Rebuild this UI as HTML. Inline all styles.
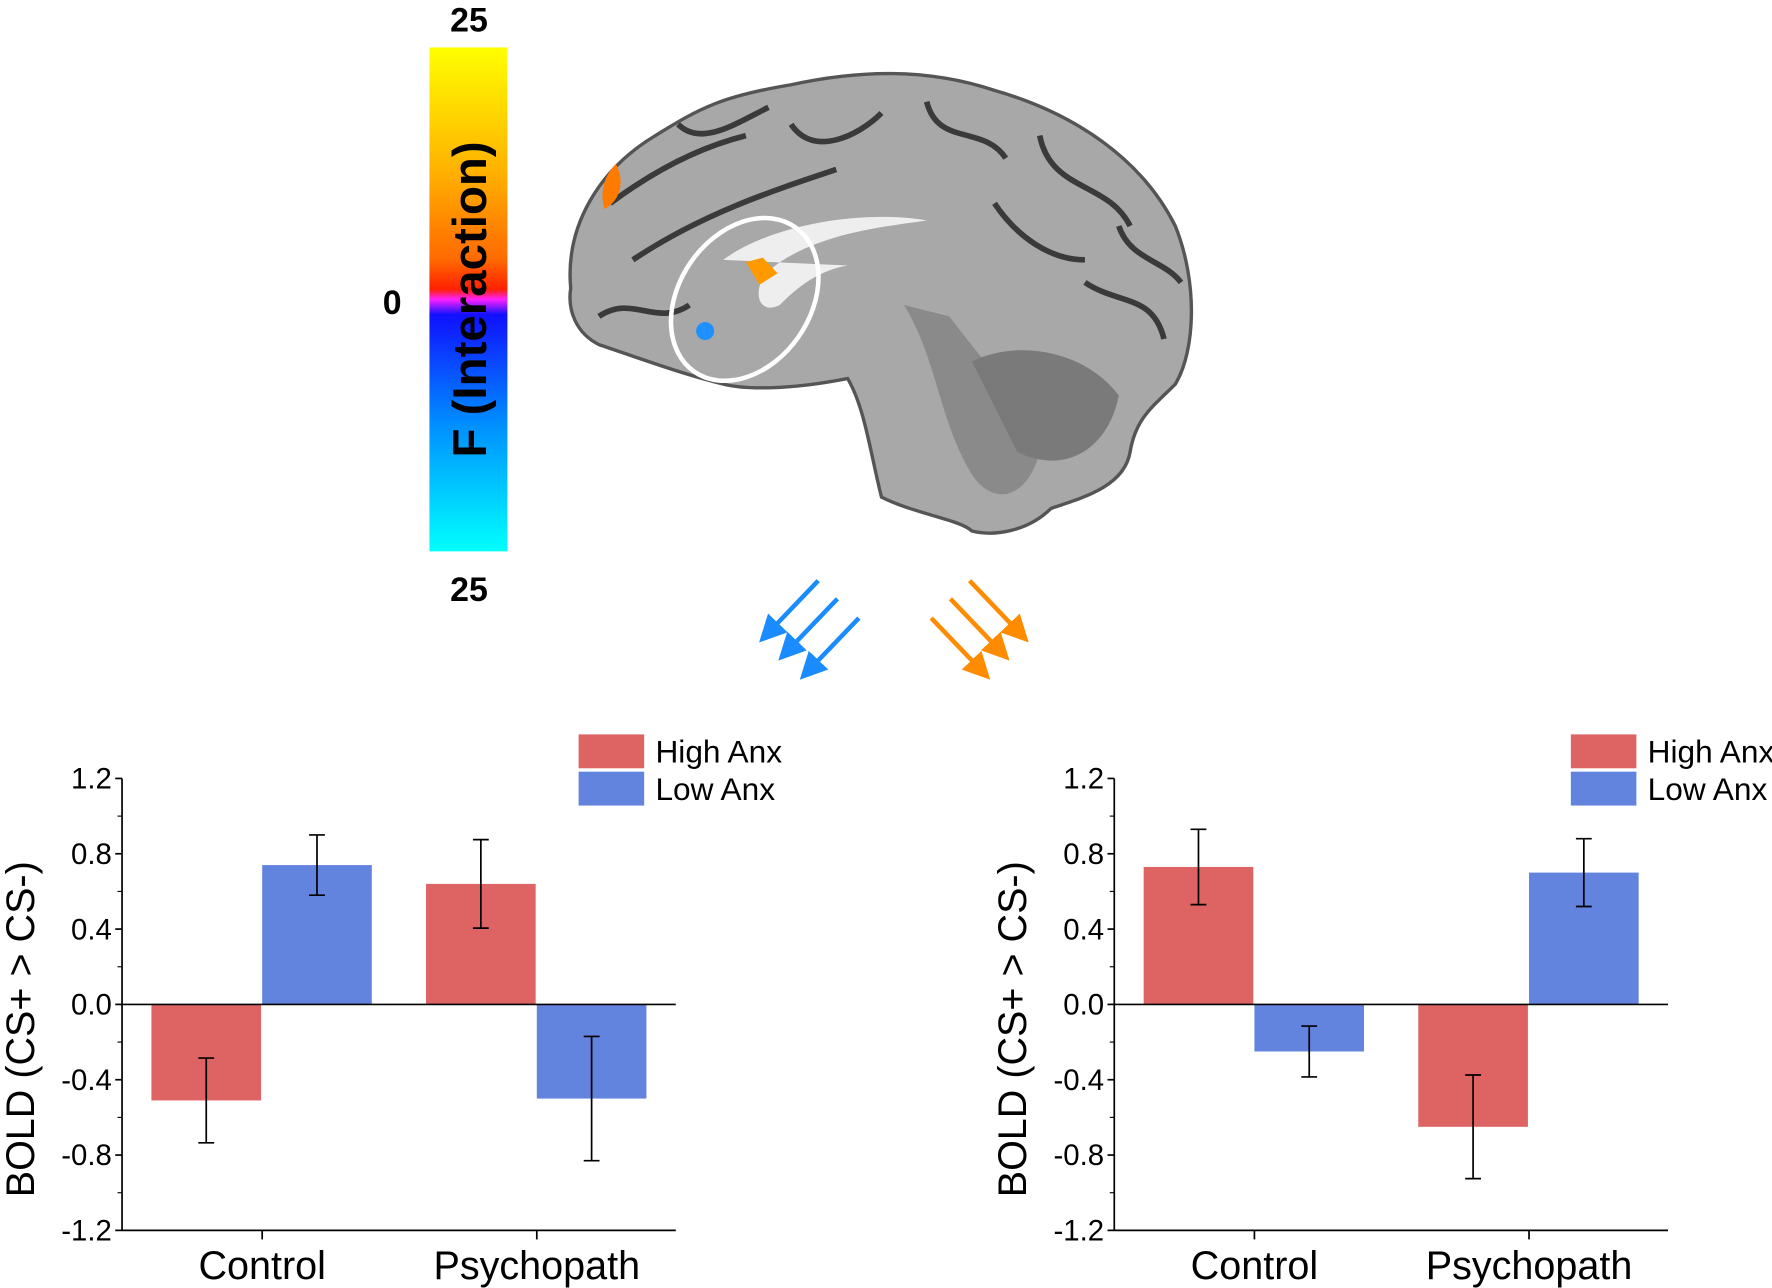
<!DOCTYPE html>
<html><head><meta charset="utf-8"><style>
html,body{margin:0;padding:0;background:#fff;}
svg{display:block;font-family:"Liberation Sans",Arial,sans-serif;}
.nar{font-family:"Liberation Sans Narrow","Liberation Sans",Arial,sans-serif;}
</style></head><body>
<svg width="1772" height="1288" viewBox="0 0 1568 1140" preserveAspectRatio="none">
<defs>
<linearGradient id="cb" x1="0" y1="0" x2="0" y2="1">
<stop offset="0" stop-color="#ffff00"/><stop offset="0.25" stop-color="#ffb000"/>
<stop offset="0.42" stop-color="#ff6a00"/><stop offset="0.48" stop-color="#ff2000"/>
<stop offset="0.5" stop-color="#ff20ff"/><stop offset="0.53" stop-color="#1010ff"/>
<stop offset="0.75" stop-color="#0090ff"/><stop offset="1" stop-color="#00ffff"/>
</linearGradient>
<marker id="ab" markerWidth="6" markerHeight="6" refX="3" refY="3" orient="auto"><path d="M0,0L6,3L0,6z" fill="#1a8cff"/></marker>
<marker id="ao" markerWidth="6" markerHeight="6" refX="3" refY="3" orient="auto"><path d="M0,0L6,3L0,6z" fill="#ff8c00"/></marker>
</defs>
<g>
<rect x="380" y="42" width="69" height="446" fill="url(#cb)"/>
<text x="415" y="28" font-size="30" font-weight="bold" text-anchor="middle">25</text>
<text x="415" y="532" font-size="30" font-weight="bold" text-anchor="middle">25</text>
<text x="347" y="278" font-size="30" font-weight="bold" text-anchor="middle">0</text>
<text transform="translate(430,265) rotate(-90)" font-size="42" font-weight="bold" text-anchor="middle">F (Interaction)</text>
</g>
<g>
<path d="M505,255 C500,200 530,150 580,120 C620,95 640,85 700,75 C760,62 820,60 880,80 C950,100 1010,140 1040,200 C1060,250 1058,310 1040,340 C1020,360 1005,370 1000,400 C995,430 960,440 930,450 C910,470 880,475 860,470 C850,460 810,455 780,440 C770,400 765,360 750,335 C700,345 660,345 640,340 C600,330 560,315 530,305 C510,295 502,275 505,255 Z" fill="#a8a8a8" stroke="#555" stroke-width="3"/>
<path d="M540,180 C580,150 620,130 660,120 M560,230 C620,190 680,170 740,150 M700,110 C720,140 760,120 780,100 M820,90 C830,130 870,110 890,140 M920,120 C930,170 980,160 1000,200 M960,250 C990,270 1020,260 1030,300 M530,280 C560,260 580,290 610,270 M880,180 C900,210 930,230 960,230 M600,110 C620,130 650,110 680,95 M990,200 C1000,230 1030,230 1045,250" fill="none" stroke="#3a3a3a" stroke-width="5"/>
<path d="M640,230 C680,200 760,185 820,195 C790,200 720,205 680,240 C665,255 670,280 690,270 C700,260 720,240 750,235 Z" fill="#eee"/>
<path d="M800,270 C830,320 830,370 860,420 C880,450 910,440 920,400 C900,350 870,320 840,280 Z" fill="#8a8a8a"/>
<path d="M860,320 C900,300 960,310 990,350 C980,400 940,420 900,400 Z" fill="#7a7a7a"/>
<path d="M545,145 C555,165 545,180 535,185 C530,170 535,155 545,145 Z" fill="#ff7a00"/>
<path d="M660,232 L675,228 L688,242 L672,252 Z" fill="#ff9900"/>
<circle cx="624" cy="293" r="8" fill="#1e90ff"/>
<ellipse cx="659" cy="265" rx="58" ry="78" transform="rotate(35 659 265)" fill="none" stroke="#fff" stroke-width="4"/>
</g>
<g>
<line x1="724" y1="514" x2="680" y2="560" stroke="#1a8cff" stroke-width="4" marker-end="url(#ab)"/>
<line x1="741" y1="530" x2="697" y2="576" stroke="#1a8cff" stroke-width="4" marker-end="url(#ab)"/>
<line x1="760" y1="547" x2="716" y2="593" stroke="#1a8cff" stroke-width="4" marker-end="url(#ab)"/>
<line x1="858" y1="514" x2="902" y2="560" stroke="#ff8c00" stroke-width="4" marker-end="url(#ao)"/>
<line x1="841" y1="530" x2="885" y2="576" stroke="#ff8c00" stroke-width="4" marker-end="url(#ao)"/>
<line x1="824" y1="547" x2="868" y2="593" stroke="#ff8c00" stroke-width="4" marker-end="url(#ao)"/>
</g>
<g id="charts"></g>
</svg>
<script>
const categories = ["Control","Psychopath"];
const seriesNames = ["High Anx","Low Anx"];
const leftHigh = [-0.51, 0.64];
const leftLow = [0.74, -0.50];
const leftHighErr = [0.225, 0.235];
const leftLowErr = [0.16, 0.33];
const rightHigh = [0.73, -0.65];
const rightLow = [-0.25, 0.70];
const rightHighErr = [0.20, 0.275];
const rightLowErr = [0.135, 0.18];
const yTicks = ["1.2","0.8","0.4","0.0","-0.4","-0.8","-1.2"];
const NS = "http://www.w3.org/2000/svg";
const root = document.getElementById("charts");
function mk(tag, attrs, parent){const e=document.createElementNS(NS,tag);for(const k in attrs)e.setAttribute(k,attrs[k]);parent.appendChild(e);return e;}
function chart(x0, name, high, low, hErr, lErr){
  const g = mk("g",{},root);
  
  
  const top=689, bot=1089, right=x0+490;
  const y = v => top + (1.2 - v) / 2.4 * (bot - top);
  const catX = i => x0 + 124 + i*243;
  mk("line",{x1:x0,y1:top,x2:x0,y2:bot,stroke:"#000","stroke-width":1.5},g);
  mk("line",{x1:x0,y1:bot,x2:right,y2:bot,stroke:"#000","stroke-width":1.5},g);
  yTicks.forEach(t=>{const v=parseFloat(t);const yy=y(v);
    mk("line",{x1:x0-6,y1:yy,x2:x0,y2:yy,stroke:"#000","stroke-width":1.5},g);
    const tx=mk("text",{x:x0-9,y:yy+9,"font-size":26,"text-anchor":"end",class:"nar"},g);tx.textContent=t;
    
    
    const m=y(v-0.2); if(v>-1.2) mk("line",{x1:x0-4,y1:m,x2:x0,y2:m,stroke:"#000","stroke-width":1},g);
  });
  [0,1].forEach(i=>{
    const cx=catX(i);
    mk("line",{x1:cx,y1:bot,x2:cx,y2:bot+8,stroke:"#000","stroke-width":1.5},g);
    const tx=mk("text",{x:cx,y:bot+43,"font-size":35,"text-anchor":"middle"},g);tx.textContent=categories[i];
    
    
    [[high,hErr,"#de6363",-98],[low,lErr,"#6283de",0]].forEach(([vals,errs,col,off])=>{
      const v=vals[i];
      const r=mk("rect",{x:cx+off,y:Math.min(y(v),y(0)),width:97,height:Math.abs(y(v)-y(0)),fill:col},g);
      
      
      const bx=cx+off+48.5;
      const eb=mk("path",{d:`M${bx},${y(v+errs[i])}V${y(v-errs[i])}M${bx-7},${y(v+errs[i])}h14M${bx-7},${y(v-errs[i])}h14`,stroke:"#000","stroke-width":1.5,fill:"none"},g);
      
      
    });
  });
  mk("line",{x1:x0,y1:y(0),x2:right,y2:y(0),stroke:"#000","stroke-width":1.5},g);
  const yt=mk("text",{transform:`translate(${x0-78},${(top+bot)/2+22}) rotate(-90)`,"font-size":35,"text-anchor":"middle"},g);
  yt.textContent="BOLD (CS+ > CS-)";
  
  
  const lx=x0+404;
  [["#de6363",650],["#6283de",683]].forEach(([c,yy],k)=>{
    const lr=mk("rect",{x:lx,y:yy,width:58,height:30,fill:c},g);
    
    
    const lt=mk("text",{x:lx+68,y:yy+25,"font-size":28,class:"nar"},g);lt.textContent=seriesNames[k];
    
    
  });
}
chart(108,"left-bar-chart",leftHigh,leftLow,leftHighErr,leftLowErr);
chart(986,"right-bar-chart",rightHigh,rightLow,rightHighErr,rightLowErr);
</script>
</body></html>
